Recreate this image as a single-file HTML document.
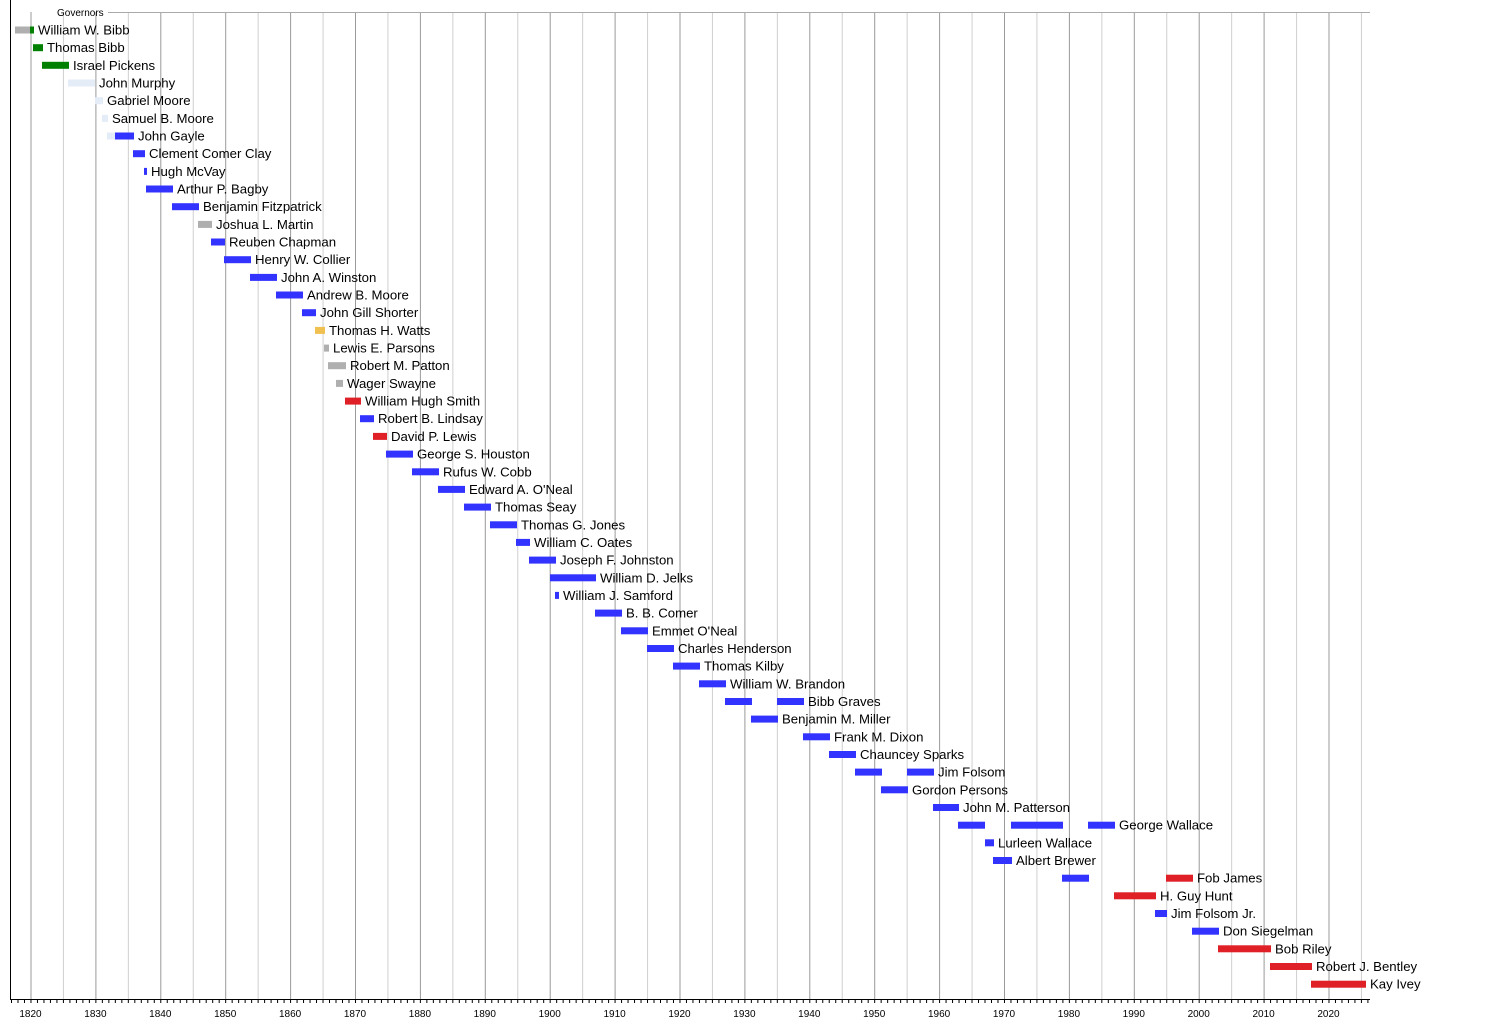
<!DOCTYPE html>
<html><head><meta charset="utf-8"><style>
html,body{margin:0;padding:0;background:#fff;}
svg{display:block;font-family:"Liberation Sans",Arial,sans-serif;}
.n{font-size:13.2px;fill:#000;}
.t{font-size:10px;fill:#000;text-anchor:middle;}
.b{fill:#3333ff}.r{fill:#e02027}.g{fill:#008000}.y{fill:#afafaf}.o{fill:#f0c050}.l{fill:#e4ecf8}
</style></head><body>
<svg width="1500" height="1018" viewBox="0 0 1500 1018" xmlns="http://www.w3.org/2000/svg">
<defs>
<pattern id="gr" patternUnits="userSpaceOnUse" x="30.5" y="0" width="64.9" height="10">
<rect x="0" y="0" width="1" height="10" fill="#9a9a9a"/>
<rect x="32.45" y="0" width="1" height="10" fill="#cfcfcf"/>
</pattern>
<pattern id="tk" patternUnits="userSpaceOnUse" x="11.0" y="0" width="6.49" height="10">
<rect x="0" y="0" width="1" height="10" fill="#000"/>
</pattern>
</defs>
<rect x="30" y="12" width="1337" height="987" fill="url(#gr)"/>
<line x1="108" y1="12.5" x2="1370" y2="12.5" stroke="#aaa" stroke-width="1"/>
<text x="57" y="16" style="font-size:10px">Governors</text>
<line x1="10.5" y1="0" x2="10.5" y2="999" stroke="#000" stroke-width="1"/>
<line x1="10" y1="999.5" x2="1370" y2="999.5" stroke="#000" stroke-width="1"/>
<rect x="11" y="1000" width="1359" height="3" fill="url(#tk)"/>
<g>
<text class="t" x="30.5" y="1017">1820</text><text class="t" x="95.4" y="1017">1830</text><text class="t" x="160.3" y="1017">1840</text><text class="t" x="225.2" y="1017">1850</text><text class="t" x="290.1" y="1017">1860</text><text class="t" x="355" y="1017">1870</text><text class="t" x="419.9" y="1017">1880</text><text class="t" x="484.8" y="1017">1890</text><text class="t" x="549.7" y="1017">1900</text><text class="t" x="614.6" y="1017">1910</text><text class="t" x="679.5" y="1017">1920</text><text class="t" x="744.4" y="1017">1930</text><text class="t" x="809.3" y="1017">1940</text><text class="t" x="874.2" y="1017">1950</text><text class="t" x="939.1" y="1017">1960</text><text class="t" x="1004" y="1017">1970</text><text class="t" x="1068.9" y="1017">1980</text><text class="t" x="1133.8" y="1017">1990</text><text class="t" x="1198.7" y="1017">2000</text><text class="t" x="1263.6" y="1017">2010</text><text class="t" x="1328.5" y="1017">2020</text>
</g>
<g transform="translate(0,30)"><rect class="y" x="15" y="-3.5" width="15" height="7"/><rect class="g" x="30" y="-3.5" width="4" height="7"/><text class="n" x="38" y="4.5">William W. Bibb</text></g>
<g transform="translate(0,47.7)"><rect class="g" x="33" y="-3.5" width="10" height="7"/><text class="n" x="47" y="4.5">Thomas Bibb</text></g>
<g transform="translate(0,65.3)"><rect class="g" x="42" y="-3.5" width="27" height="7"/><text class="n" x="73" y="4.5">Israel Pickens</text></g>
<g transform="translate(0,83)"><rect class="l" x="68" y="-3.5" width="27" height="7"/><text class="n" x="99" y="4.5">John Murphy</text></g>
<g transform="translate(0,100.7)"><rect class="l" x="95" y="-3.5" width="8" height="7"/><text class="n" x="107" y="4.5">Gabriel Moore</text></g>
<g transform="translate(0,118.4)"><rect class="l" x="102" y="-3.5" width="6" height="7"/><text class="n" x="112" y="4.5">Samuel B. Moore</text></g>
<g transform="translate(0,136)"><rect class="l" x="107" y="-3.5" width="8" height="7"/><rect class="b" x="115" y="-3.5" width="19" height="7"/><text class="n" x="138" y="4.5">John Gayle</text></g>
<g transform="translate(0,153.7)"><rect class="b" x="133" y="-3.5" width="12" height="7"/><text class="n" x="149" y="4.5">Clement Comer Clay</text></g>
<g transform="translate(0,171.4)"><rect class="b" x="144" y="-3.5" width="3" height="7"/><text class="n" x="151" y="4.5">Hugh McVay</text></g>
<g transform="translate(0,189)"><rect class="b" x="146" y="-3.5" width="27" height="7"/><text class="n" x="177" y="4.5">Arthur P. Bagby</text></g>
<g transform="translate(0,206.7)"><rect class="b" x="172" y="-3.5" width="27" height="7"/><text class="n" x="203" y="4.5">Benjamin Fitzpatrick</text></g>
<g transform="translate(0,224.4)"><rect class="y" x="198" y="-3.5" width="14" height="7"/><text class="n" x="216" y="4.5">Joshua L. Martin</text></g>
<g transform="translate(0,242)"><rect class="b" x="211" y="-3.5" width="14" height="7"/><text class="n" x="229" y="4.5">Reuben Chapman</text></g>
<g transform="translate(0,259.7)"><rect class="b" x="224" y="-3.5" width="27" height="7"/><text class="n" x="255" y="4.5">Henry W. Collier</text></g>
<g transform="translate(0,277.4)"><rect class="b" x="250" y="-3.5" width="27" height="7"/><text class="n" x="281" y="4.5">John A. Winston</text></g>
<g transform="translate(0,295)"><rect class="b" x="276" y="-3.5" width="27" height="7"/><text class="n" x="307" y="4.5">Andrew B. Moore</text></g>
<g transform="translate(0,312.7)"><rect class="b" x="302" y="-3.5" width="14" height="7"/><text class="n" x="320" y="4.5">John Gill Shorter</text></g>
<g transform="translate(0,330.4)"><rect class="o" x="315" y="-3.5" width="10" height="7"/><text class="n" x="329" y="4.5">Thomas H. Watts</text></g>
<g transform="translate(0,348.1)"><rect class="y" x="324" y="-3.5" width="5" height="7"/><text class="n" x="333" y="4.5">Lewis E. Parsons</text></g>
<g transform="translate(0,365.7)"><rect class="y" x="328" y="-3.5" width="18" height="7"/><text class="n" x="350" y="4.5">Robert M. Patton</text></g>
<g transform="translate(0,383.4)"><rect class="y" x="336" y="-3.5" width="7" height="7"/><text class="n" x="347" y="4.5">Wager Swayne</text></g>
<g transform="translate(0,401.1)"><rect class="r" x="345" y="-3.5" width="16" height="7"/><text class="n" x="365" y="4.5">William Hugh Smith</text></g>
<g transform="translate(0,418.7)"><rect class="b" x="360" y="-3.5" width="14" height="7"/><text class="n" x="378" y="4.5">Robert B. Lindsay</text></g>
<g transform="translate(0,436.4)"><rect class="r" x="373" y="-3.5" width="14" height="7"/><text class="n" x="391" y="4.5">David P. Lewis</text></g>
<g transform="translate(0,454.1)"><rect class="b" x="386" y="-3.5" width="27" height="7"/><text class="n" x="417" y="4.5">George S. Houston</text></g>
<g transform="translate(0,471.8)"><rect class="b" x="412" y="-3.5" width="27" height="7"/><text class="n" x="443" y="4.5">Rufus W. Cobb</text></g>
<g transform="translate(0,489.4)"><rect class="b" x="438" y="-3.5" width="27" height="7"/><text class="n" x="469" y="4.5">Edward A. O'Neal</text></g>
<g transform="translate(0,507.1)"><rect class="b" x="464" y="-3.5" width="27" height="7"/><text class="n" x="495" y="4.5">Thomas Seay</text></g>
<g transform="translate(0,524.8)"><rect class="b" x="490" y="-3.5" width="27" height="7"/><text class="n" x="521" y="4.5">Thomas G. Jones</text></g>
<g transform="translate(0,542.4)"><rect class="b" x="516" y="-3.5" width="14" height="7"/><text class="n" x="534" y="4.5">William C. Oates</text></g>
<g transform="translate(0,560.1)"><rect class="b" x="529" y="-3.5" width="27" height="7"/><text class="n" x="560" y="4.5">Joseph F. Johnston</text></g>
<g transform="translate(0,577.8)"><rect class="b" x="550" y="-3.5" width="46" height="7"/><text class="n" x="600" y="4.5">William D. Jelks</text></g>
<g transform="translate(0,595.4)"><rect class="b" x="555" y="-3.5" width="4" height="7"/><text class="n" x="563" y="4.5">William J. Samford</text></g>
<g transform="translate(0,613.1)"><rect class="b" x="595" y="-3.5" width="27" height="7"/><text class="n" x="626" y="4.5">B. B. Comer</text></g>
<g transform="translate(0,630.8)"><rect class="b" x="621" y="-3.5" width="27" height="7"/><text class="n" x="652" y="4.5">Emmet O'Neal</text></g>
<g transform="translate(0,648.5)"><rect class="b" x="647" y="-3.5" width="27" height="7"/><text class="n" x="678" y="4.5">Charles Henderson</text></g>
<g transform="translate(0,666.1)"><rect class="b" x="673" y="-3.5" width="27" height="7"/><text class="n" x="704" y="4.5">Thomas Kilby</text></g>
<g transform="translate(0,683.8)"><rect class="b" x="699" y="-3.5" width="27" height="7"/><text class="n" x="730" y="4.5">William W. Brandon</text></g>
<g transform="translate(0,701.5)"><rect class="b" x="725" y="-3.5" width="27" height="7"/><rect class="b" x="777" y="-3.5" width="27" height="7"/><text class="n" x="808" y="4.5">Bibb Graves</text></g>
<g transform="translate(0,719.1)"><rect class="b" x="751" y="-3.5" width="27" height="7"/><text class="n" x="782" y="4.5">Benjamin M. Miller</text></g>
<g transform="translate(0,736.8)"><rect class="b" x="803" y="-3.5" width="27" height="7"/><text class="n" x="834" y="4.5">Frank M. Dixon</text></g>
<g transform="translate(0,754.5)"><rect class="b" x="829" y="-3.5" width="27" height="7"/><text class="n" x="860" y="4.5">Chauncey Sparks</text></g>
<g transform="translate(0,772.1)"><rect class="b" x="855" y="-3.5" width="27" height="7"/><rect class="b" x="907" y="-3.5" width="27" height="7"/><text class="n" x="938" y="4.5">Jim Folsom</text></g>
<g transform="translate(0,789.8)"><rect class="b" x="881" y="-3.5" width="27" height="7"/><text class="n" x="912" y="4.5">Gordon Persons</text></g>
<g transform="translate(0,807.5)"><rect class="b" x="933" y="-3.5" width="26" height="7"/><text class="n" x="963" y="4.5">John M. Patterson</text></g>
<g transform="translate(0,825.2)"><rect class="b" x="958" y="-3.5" width="27" height="7"/><rect class="b" x="1011" y="-3.5" width="52" height="7"/><rect class="b" x="1088" y="-3.5" width="27" height="7"/><text class="n" x="1119" y="4.5">George Wallace</text></g>
<g transform="translate(0,842.8)"><rect class="b" x="985" y="-3.5" width="9" height="7"/><text class="n" x="998" y="4.5">Lurleen Wallace</text></g>
<g transform="translate(0,860.5)"><rect class="b" x="993" y="-3.5" width="19" height="7"/><text class="n" x="1016" y="4.5">Albert Brewer</text></g>
<g transform="translate(0,878.2)"><rect class="b" x="1062" y="-3.5" width="27" height="7"/><rect class="r" x="1166" y="-3.5" width="27" height="7"/><text class="n" x="1197" y="4.5">Fob James</text></g>
<g transform="translate(0,895.8)"><rect class="r" x="1114" y="-3.5" width="42" height="7"/><text class="n" x="1160" y="4.5">H. Guy Hunt</text></g>
<g transform="translate(0,913.5)"><rect class="b" x="1155" y="-3.5" width="12" height="7"/><text class="n" x="1171" y="4.5">Jim Folsom Jr.</text></g>
<g transform="translate(0,931.2)"><rect class="b" x="1192" y="-3.5" width="27" height="7"/><text class="n" x="1223" y="4.5">Don Siegelman</text></g>
<g transform="translate(0,948.8)"><rect class="r" x="1218" y="-3.5" width="53" height="7"/><text class="n" x="1275" y="4.5">Bob Riley</text></g>
<g transform="translate(0,966.5)"><rect class="r" x="1270" y="-3.5" width="42" height="7"/><text class="n" x="1316" y="4.5">Robert J. Bentley</text></g>
<g transform="translate(0,984.2)"><rect class="r" x="1311" y="-3.5" width="55" height="7"/><text class="n" x="1370" y="4.5">Kay Ivey</text></g>
</svg>
</body></html>
